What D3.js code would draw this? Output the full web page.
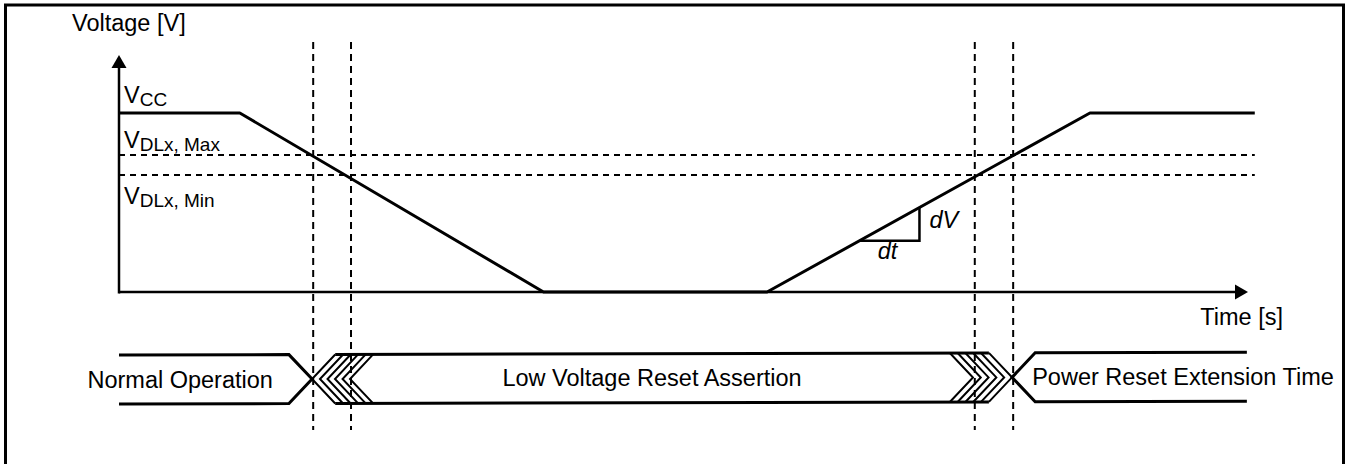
<!doctype html>
<html>
<head>
<meta charset="utf-8"/>
<style>
  body { margin: 0; background: #fff; }
  text { font-family: "Liberation Sans", Arial, sans-serif; fill: #000; font-size: 23.5px; }
</style>
</head>
<body>
<script src="https://cdn.jsdelivr.net/npm/d3@7"></script>
<script>
// time in arbitrary units (0..100 on the axis), voltage normalised to Vcc
const waveT = [0, 10.7, 37.6, 57.4, 86.0, 100.6];
const waveV = [1, 1, 0, 0, 1, 1];

const levelNames = ['CC', 'DLx, Max', 'DLx, Min'];
const levelV = [1, 0.765, 0.654];
const thresholdV = [0.765, 0.654];

const markerT = [17.2, 20.55, 75.8, 79.2];
const slopeT = [65.6, 70.9];   // dV / dt triangle

const busNames = ['Normal Operation', 'Low Voltage Reset Assertion', 'Power Reset Extension Time'];
const busStart = [0, 17.1, 79.1];
const busEnd = [17.1, 79.1, 99.9];
const leftEdges = [17.1, 17.8, 18.47, 19.13, 19.8, 20.46];
const rightEdges = [75.64, 76.33, 77.02, 77.71, 78.4, 79.1];

const W = 1348, H = 464;

const svg = d3.select('body').append('svg')
  .attr('width', W)
  .attr('height', H);

const x = d3.scaleLinear().domain([0, 100]).range([119, 1248]);
const y = d3.scaleLinear().domain([0, 1]).range([292, 113]);
const vAt = d3.scaleLinear().domain(waveT).range(waveV);

// frame
svg.append('rect')
  .attr('x', 5.5).attr('y', 5)
  .attr('width', 1338).attr('height', 470)
  .attr('fill', 'none')
  .attr('stroke', '#000')
  .attr('stroke-width', 3);

// threshold lines
svg.append('g').selectAll('line')
  .data(thresholdV)
  .join('line')
  .attr('x1', x(0)).attr('x2', x(100.6))
  .attr('y1', d => y(d)).attr('y2', d => y(d))
  .attr('stroke', '#000')
  .attr('stroke-width', 2)
  .attr('stroke-dasharray', '6,5');

// vertical markers
svg.append('g').selectAll('line')
  .data(markerT)
  .join('line')
  .attr('x1', d => x(d)).attr('x2', d => x(d))
  .attr('y1', 42).attr('y2', 430)
  .attr('stroke', '#000')
  .attr('stroke-width', 2)
  .attr('stroke-dasharray', '7,5');

// axes
const yTop = y(1.324);
svg.append('line')
  .attr('x1', x(0)).attr('x2', x(0))
  .attr('y1', y(0) + 1.5).attr('y2', yTop + 10)
  .attr('stroke', '#000').attr('stroke-width', 2.5);
svg.append('path')
  .attr('d', `M${x(0)},${yTop}L${x(0) - 7.5},${yTop + 13}L${x(0) + 7.5},${yTop + 13}Z`)
  .attr('fill', '#000');
svg.append('line')
  .attr('x1', x(0)).attr('x2', x(100) - 10)
  .attr('y1', y(0)).attr('y2', y(0))
  .attr('stroke', '#000').attr('stroke-width', 2.5);
svg.append('path')
  .attr('d', `M${x(100)},${y(0)}L${x(100) - 13},${y(0) - 7.5}L${x(100) - 13},${y(0) + 7.5}Z`)
  .attr('fill', '#000');

svg.append('text')
  .attr('x', 72).attr('y', 31)
  .text('Voltage [V]');
svg.append('text')
  .attr('x', x(100) + 35).attr('y', 325)
  .attr('text-anchor', 'end')
  .text('Time [s]');

// level labels
const labelDy = [-10, -7, 29];
const lbl = svg.append('g').selectAll('text')
  .data(levelNames)
  .join('text')
  .attr('x', x(0) + 5)
  .attr('y', (d, i) => y(levelV[i]) + labelDy[i]);
lbl.append('tspan').text('V');
lbl.append('tspan')
  .attr('dy', 3)
  .style('font-size', '19px')
  .text(d => d);

// waveform
const line = d3.line().x(d => x(d[0])).y(d => y(d[1]));
svg.append('path')
  .attr('d', line(waveT.map((t, i) => [t, waveV[i]])))
  .attr('fill', 'none')
  .attr('stroke', '#000')
  .attr('stroke-width', 3)
  .attr('stroke-linejoin', 'round');

// dV/dt triangle
const v0 = vAt(slopeT[0]), v1 = vAt(slopeT[1]);
svg.append('path')
  .attr('d', line([[slopeT[0], v0], [slopeT[1], v0], [slopeT[1], v1]]))
  .attr('fill', 'none')
  .attr('stroke', '#000')
  .attr('stroke-width', 2.5);
svg.append('text')
  .attr('x', x(slopeT[1]) + 10)
  .attr('y', (y(v0) + y(v1)) / 2 + 4)
  .style('font-style', 'italic')
  .text('dV');
svg.append('text')
  .attr('x', (x(slopeT[0]) + x(slopeT[1])) / 2 - 2)
  .attr('y', y(v0) + 18)
  .attr('text-anchor', 'middle')
  .style('font-style', 'italic')
  .text('dt');

// bus timing row
const busY = d3.scaleLinear().domain([0, 1]).range([404, 355]);
const skew = d3.scaleLinear().domain([0, 100]).range([0, -2.7]);
const hw = 2.05;
const bus = d3.line().x(d => x(d[0])).y(d => busY(d[1]) + skew(d[0]));

const g = svg.append('g')
  .attr('fill', 'none')
  .attr('stroke', '#000');

g.append('path')
  .attr('d', bus([[busStart[0], 1], [busEnd[0] - hw, 1], [busEnd[0], 0.5], [busEnd[0] - hw, 0], [busStart[0], 0]]))
  .attr('stroke-width', 3);

g.append('path')
  .attr('d', bus([[busEnd[2], 1], [busStart[2] + hw, 1], [busStart[2], 0.5], [busStart[2] + hw, 0], [busEnd[2], 0]]))
  .attr('stroke-width', 3);

const l0 = leftEdges[0] + hw, l1 = rightEdges[rightEdges.length - 1] - hw;
g.append('path')
  .attr('d', bus([[l0, 1], [l1, 1]]))
  .attr('stroke-width', 3);
g.append('path')
  .attr('d', bus([[l0, 0], [l1, 0]]))
  .attr('stroke-width', 3);

g.selectAll('.lchev')
  .data(leftEdges)
  .join('path')
  .attr('d', t => bus([[t + hw, 1], [t, 0.5], [t + hw, 0]]))
  .attr('stroke-width', 2);
g.selectAll('.rchev')
  .data(rightEdges)
  .join('path')
  .attr('d', t => bus([[t - hw, 1], [t, 0.5], [t - hw, 0]]))
  .attr('stroke-width', 2);

// bus labels
const busMid = busY(0.5) + 8;
svg.append('text')
  .attr('x', x(busEnd[0] - hw) - 16)
  .attr('y', busMid + skew(busStart[0]))
  .attr('text-anchor', 'end')
  .text(busNames[0]);
svg.append('text')
  .attr('x', x((busStart[1] + busEnd[1]) / 2) - 10)
  .attr('y', busMid + skew(48))
  .attr('text-anchor', 'middle')
  .text(busNames[1]);
svg.append('text')
  .attr('x', x(busStart[2] + hw) - 3)
  .attr('y', busMid + skew(90))
  .text(busNames[2]);
</script>
</body>
</html>
